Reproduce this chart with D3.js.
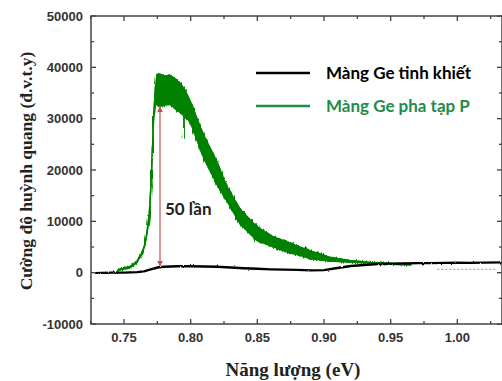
<!doctype html>
<html>
<meta charset="utf-8">
<style>
  body { margin: 0; background: #fff; }
  .tick-label { font-family: "Liberation Sans", Arial, sans-serif; font-weight: bold; font-size: 13px; fill: #333; }
  .axis-title { font-family: "Liberation Serif", "Times New Roman", serif; font-weight: bold; fill: #222; }
  .legend-text { font-family: Lato, "Open Sans", sans-serif; font-weight: bold; font-size: 17px; }
</style>
<head>
  <script src="https://cdn.jsdelivr.net/npm/d3@7/dist/d3.min.js"></script>
</head>
<body>
<script>

var width = 502, height = 381;
var margin = {top: 16, right: 0, bottom: 57, left: 91};

// energy (eV) vs intensity
var pureE = [0.728, 0.74, 0.75, 0.76, 0.765, 0.77, 0.775, 0.78, 0.79, 0.80, 0.81, 0.82, 0.83, 0.84, 0.85, 0.86, 0.87, 0.88, 0.89, 0.90, 0.91, 0.92, 0.93, 0.94, 0.95, 0.96, 0.97, 0.98, 0.99, 1.00, 1.01, 1.02, 1.034];
var pureI = [-100, 0, 0, 100, 250, 650, 1000, 1150, 1250, 1250, 1200, 1150, 1000, 850, 750, 650, 600, 550, 450, 500, 900, 1300, 1500, 1700, 1750, 1800, 1850, 1850, 1900, 1950, 1900, 1950, 2000];

// doped film: noisy band, lower and upper edge
var dopedE  = [0.745, 0.7457, 0.7545, 0.7595, 0.7633, 0.7658, 0.7675, 0.769, 0.770, 0.7707, 0.772, 0.7735, 0.7745, 0.776, 0.780, 0.7845, 0.788, 0.792, 0.796, 0.7995, 0.8095, 0.8195, 0.827, 0.837, 0.8495, 0.862, 0.8745, 0.882, 0.8895, 0.9045, 0.9195, 0.9345, 0.95, 0.965];
var dopedLo = [200, 450, 950, 1900, 3550, 5450, 8050, 11300, 15800, 19700, 28700, 33000, 32800, 32400, 32600, 32800, 32000, 31200, 30400, 29400, 22500, 17300, 14000, 9500, 6300, 5000, 3800, 3400, 2700, 2250, 2050, 1870, 1650, 1500];
var dopedHi = [350, 650, 1200, 2200, 3850, 5800, 8400, 11700, 16300, 20200, 29500, 36000, 38400, 38800, 38300, 38500, 37800, 37000, 35500, 33500, 27000, 21800, 16900, 12400, 9000, 7000, 5800, 5000, 4300, 3000, 2400, 2000, 1800, 1650];

// faint tail of the doped film under the pure film
var tailE = [0.985, 1.03];
var tailI = [650, 650];

// deep dips in the noisy band
var spikeE = [0.7945, 0.827];
var spikeI = [26300, 14600];

// the "50 times" arrow
var arrowE = 0.777;
var arrowI = [1300, 32300];

var xTicks = [0.75, 0.80, 0.85, 0.90, 0.95, 1.00];
var xMinor = [0.725, 0.775, 0.825, 0.875, 0.925, 0.975, 1.025];
var yTicks = [-10000, 0, 10000, 20000, 30000, 40000, 50000];
var yMinor = [-5000, 5000, 15000, 25000, 35000, 45000];

var legendLabels = ["Màng Ge tinh khiết", "Màng Ge pha tạp P"];
var legendColors = ["#000", "#1f8c4c"];

var svg = d3.select("body").append("svg")
  .attr("width", width)
  .attr("height", height);

var x = d3.scaleLinear().domain([0.72525, 1.0335]).range([margin.left, width - margin.right]);
var y = d3.scaleLinear().domain([-10000, 50000]).range([height - margin.bottom, margin.top]);

var defs = svg.append("defs");
defs.append("clipPath").attr("id", "clip")
  .append("rect")
  .attr("x", margin.left).attr("y", margin.top)
  .attr("width", width - margin.left - margin.right)
  .attr("height", height - margin.top - margin.bottom);

// jagged look of a noisy spectrum
function noiseFilter(id, freq, scale, seed) {
  var f = defs.append("filter").attr("id", id)
    .attr("x", "-5%").attr("y", "-5%").attr("width", "110%").attr("height", "110%");
  f.append("feTurbulence")
    .attr("type", "fractalNoise")
    .attr("baseFrequency", freq)
    .attr("numOctaves", 1)
    .attr("seed", seed)
    .attr("result", "t");
  f.append("feDisplacementMap")
    .attr("in", "SourceGraphic").attr("in2", "t")
    .attr("scale", scale)
    .attr("xChannelSelector", "B")
    .attr("yChannelSelector", "R");
}
noiseFilter("noisy", "0.9 0.03", 6, 4);
noiseFilter("noisy2", "0.6 0.1", 2.5, 7);

["start", "end"].forEach(function(k) {
  defs.append("marker")
    .attr("id", "arr-" + k)
    .attr("viewBox", "0 0 10 10")
    .attr("refX", 9).attr("refY", 5)
    .attr("markerWidth", 5).attr("markerHeight", 5)
    .attr("orient", k == "start" ? "auto-start-reverse" : "auto")
    .append("path")
    .attr("d", "M0,0 L10,5 L0,10 Z")
    .attr("fill", "#c0504d");
});

var plot = svg.append("g").attr("clip-path", "url(#clip)");

// doped band
var band = d3.area()
  .x(function(d, i) { return x(dopedE[i]); })
  .y0(function(d, i) { return y(dopedLo[i]); })
  .y1(function(d, i) { return y(dopedHi[i]); });

// solid core
plot.append("path")
  .datum(dopedE)
  .attr("d", band)
  .attr("fill", "#008200")
  .attr("stroke", "#008200")
  .attr("stroke-width", 1.2)
  .attr("stroke-linejoin", "round");

// jagged copy on top
var green = plot.append("g").attr("filter", "url(#noisy)");

green.append("path")
  .datum(dopedE)
  .attr("d", band)
  .attr("fill", "#008200")
  .attr("stroke", "#008200")
  .attr("stroke-width", 1.4)
  .attr("stroke-linejoin", "round");

// dips
green.selectAll(".spike")
  .data(spikeE)
  .enter().append("line")
  .attr("x1", function(d) { return x(d); })
  .attr("x2", function(d) { return x(d); })
  .attr("y1", function(d, i) { return y(spikeI[i] + (i == 0 ? 5500 : 2000)); })
  .attr("y2", function(d, i) { return y(spikeI[i]); })
  .attr("stroke", "#008200")
  .attr("stroke-width", 1.2);

plot.append("path")
  .datum(tailE)
  .attr("d", d3.line().x(function(d, i) { return x(tailE[i]); }).y(function(d, i) { return y(tailI[i]); }))
  .attr("fill", "none")
  .attr("stroke", "#6ab06a")
  .attr("stroke-width", 1)
  .attr("stroke-dasharray", "2,2");

// pure Ge line
var line = d3.line()
  .x(function(d, i) { return x(pureE[i]); })
  .y(function(d, i) { return y(pureI[i]); });

plot.append("path")
  .datum(pureE)
  .attr("d", line)
  .attr("fill", "none")
  .attr("stroke", "#000")
  .attr("stroke-width", 2.4)
  .attr("filter", "url(#noisy2)");

// arrow
svg.append("line")
  .attr("x1", x(arrowE)).attr("x2", x(arrowE))
  .attr("y1", y(arrowI[0])).attr("y2", y(arrowI[1]))
  .attr("stroke", "#c0504d")
  .attr("stroke-width", 1.2)
  .attr("marker-start", "url(#arr-start)")
  .attr("marker-end", "url(#arr-end)");

svg.append("text")
  .attr("class", "legend-text")
  .attr("x", 165).attr("y", 215)
  .attr("fill", "#222")
  .text("50 lần");

// frame and ticks
var axisColor = "#444";
var x0 = margin.left, x1 = width - margin.right, y0 = height - margin.bottom, y1 = margin.top;

svg.append("rect")
  .attr("x", x0).attr("y", y1)
  .attr("width", x1 - x0).attr("height", y0 - y1)
  .attr("fill", "none")
  .attr("stroke", axisColor)
  .attr("stroke-width", 1.5);

function xTickMarks(vals, len) {
  vals.forEach(function(v) {
    svg.append("line").attr("x1", x(v)).attr("x2", x(v)).attr("y1", y0).attr("y2", y0 - len)
      .attr("stroke", axisColor).attr("stroke-width", 1.3);
    svg.append("line").attr("x1", x(v)).attr("x2", x(v)).attr("y1", y1).attr("y2", y1 + len)
      .attr("stroke", axisColor).attr("stroke-width", 1.3);
  });
}
function yTickMarks(vals, len) {
  vals.forEach(function(v) {
    svg.append("line").attr("x1", x0).attr("x2", x0 + len).attr("y1", y(v)).attr("y2", y(v))
      .attr("stroke", axisColor).attr("stroke-width", 1.3);
    svg.append("line").attr("x1", x1).attr("x2", x1 - len).attr("y1", y(v)).attr("y2", y(v))
      .attr("stroke", axisColor).attr("stroke-width", 1.3);
  });
}
xTickMarks(xTicks, 5);
xTickMarks(xMinor, 3);
yTickMarks(yTicks, 5);
yTickMarks(yMinor, 3);

svg.selectAll(".xl")
  .data(xTicks)
  .enter().append("text")
  .attr("class", "tick-label")
  .attr("x", function(d) { return x(d); })
  .attr("y", 342)
  .attr("text-anchor", "middle")
  .text(d3.format(".2f"));

svg.selectAll(".yl")
  .data(yTicks)
  .enter().append("text")
  .attr("class", "tick-label")
  .attr("x", 83)
  .attr("y", function(d) { return y(d) + 4.5; })
  .attr("text-anchor", "end")
  .text(function(d) { return d; });

// axis titles
svg.append("text")
  .attr("class", "axis-title")
  .attr("x", 293).attr("y", 376)
  .attr("text-anchor", "middle")
  .style("font-size", "19px")
  .text("Năng lượng (eV)");

svg.append("text")
  .attr("class", "axis-title")
  .attr("transform", "translate(32,171) rotate(-90)")
  .attr("text-anchor", "middle")
  .style("font-size", "17.5px")
  .text("Cường độ huỳnh quang (đ.v.t.y)");

// legend
var legend = svg.selectAll(".legend")
  .data(legendLabels)
  .enter().append("g")
  .attr("transform", function(d, i) { return "translate(0," + (73 + i * 33) + ")"; });

legend.append("line")
  .attr("x1", 256).attr("x2", 310)
  .attr("stroke", function(d, i) { return legendColors[i]; })
  .attr("stroke-width", 2.5);

legend.append("text")
  .attr("class", "legend-text")
  .attr("x", 326).attr("y", 6)
  .attr("fill", function(d, i) { return legendColors[i]; })
  .text(function(d) { return d; });

</script>
</body>
</html>
